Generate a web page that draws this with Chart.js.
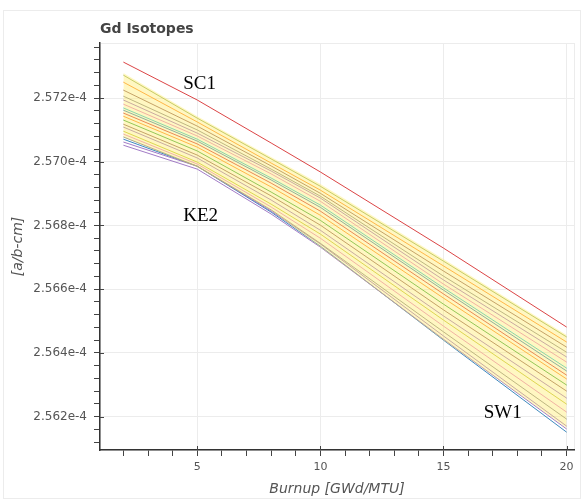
<!DOCTYPE html>
<html>
<head>
<meta charset="utf-8">
<script src="https://cdn.jsdelivr.net/npm/chart.js@4"></script>
<style>
  html, body { margin: 0; padding: 0; background: #fff; }
</style>
</head>
<body>
<canvas id="gd-chart" width="584" height="501"></canvas>
<script>
// burnup steps (GWd/MTU)
const burnup = [2, 5, 8, 10, 15, 20];

// Gd number density per case, in units of 1e-4 a/b-cm
const sc1 = [2.57313, 2.57194, 2.57059, 2.56968, 2.56729, 2.56481];
const case02 = [2.57272, 2.57137, 2.57009, 2.56923, 2.56688, 2.56450];
const case03 = [2.57250, 2.57125, 2.56996, 2.56911, 2.56673, 2.56434];
const case04 = [2.57225, 2.57112, 2.56987, 2.56901, 2.56657, 2.56418];
const case05 = [2.57206, 2.57100, 2.56977, 2.56892, 2.56641, 2.56402];
const case06 = [2.57194, 2.57090, 2.56971, 2.56886, 2.56629, 2.56387];
const case07 = [2.57181, 2.57081, 2.56962, 2.56876, 2.56616, 2.56371];
const case08 = [2.57169, 2.57071, 2.56949, 2.56864, 2.56604, 2.56352];
const case09 = [2.57162, 2.57065, 2.56943, 2.56857, 2.56597, 2.56343];
const case10 = [2.57153, 2.57056, 2.56933, 2.56845, 2.56585, 2.56330];
const case11 = [2.57143, 2.57046, 2.56921, 2.56832, 2.56572, 2.56318];
const case12 = [2.57131, 2.57034, 2.56905, 2.56816, 2.56553, 2.56299];
const case13 = [2.57118, 2.57021, 2.56893, 2.56801, 2.56535, 2.56280];
const case14 = [2.57109, 2.57012, 2.56880, 2.56785, 2.56516, 2.56258];
const case15 = [2.57096, 2.56999, 2.56867, 2.56773, 2.56503, 2.56239];
const case16 = [2.57087, 2.56993, 2.56858, 2.56760, 2.56484, 2.56214];
const case17 = [2.57078, 2.56986, 2.56849, 2.56744, 2.56466, 2.56192];
const ke2 = [2.57062, 2.56986, 2.56845, 2.56742, 2.56453, 2.56170];
const case19 = [2.57052, 2.56977, 2.56836, 2.56732, 2.56443, 2.56161];
const sw1 = [2.57071, 2.56986, 2.56842, 2.56735, 2.56440, 2.56151];

// spread band
const bandHigh = [2.57279, 2.57143, 2.57015, 2.56930, 2.56695, 2.56456];
const bandLow = [2.57078, 2.56983, 2.56848, 2.56732, 2.56440, 2.56164];

// ticks
const xMajor = [5, 10, 15, 20];
const yMajor = [2.562, 2.564, 2.566, 2.568, 2.570, 2.572];

const cases = [sc1, case02, case03, case04, case05, case06, case07, case08, case09, case10,
               case11, case12, case13, case14, case15, case16, case17, ke2, case19, sw1];
const colors = ['#d62728', '#8fa84a', '#ff7f0e', '#8c564b', '#7f7f7f', '#9467bd', '#e377c2',
                '#17becf', '#1f77b4', '#d62728', '#ff7f0e', '#2ca02c', '#8c564b', '#9467bd',
                '#bcbd22', '#e377c2', '#7f7f7f', '#9467bd', '#9467bd', '#1f77b4'];

const notes = [
  {text: 'SC1', x: 4.43, y: 2.57228},
  {text: 'KE2', x: 4.43, y: 2.56814},
  {text: 'SW1', x: 16.63, y: 2.56195}
];

const toPoints = arr => arr.map((v, i) => ({x: burnup[i], y: v}));
const isMajorY = v => yMajor.some(m => Math.abs(m - v) < 1e-6);

const datasets = [
  {data: toPoints(bandLow), borderWidth: 0, pointRadius: 0, fill: false, borderColor: 'rgba(0,0,0,0)'},
  {data: toPoints(bandHigh), borderWidth: 0, pointRadius: 0, fill: '-1',
   borderColor: 'rgba(0,0,0,0)', backgroundColor: 'rgba(255,236,110,0.42)'}
];
cases.forEach((c, i) => {
  datasets.push({
    data: toPoints(c),
    borderColor: colors[i] + 'dd',
    borderWidth: 1,
    pointRadius: 0,
    fill: false,
    tension: 0
  });
});

const textPlugin = {
  id: 'texts',
  beforeDraw(chart) {
    const {ctx, chartArea} = chart;
    ctx.save();
    ctx.fillStyle = '#fff';
    ctx.fillRect(0, 0, chart.width, chart.height);
    ctx.strokeStyle = '#ececec';
    ctx.lineWidth = 1;
    ctx.strokeRect(3.5, 10.5, chart.width - 7, chart.height - 13);
    ctx.strokeRect(chartArea.left + 0.5, chartArea.top + 0.5,
                   chartArea.right - chartArea.left, chartArea.bottom - chartArea.top);
    ctx.restore();
  },
  afterDraw(chart) {
    const {ctx, chartArea, scales} = chart;
    ctx.save();
    // major ticks poke a little into the plot
    ctx.strokeStyle = '#444';
    ctx.lineWidth = 1;
    ctx.beginPath();
    yMajor.forEach(v => {
      const py = Math.round(scales.y.getPixelForValue(v)) + 0.5;
      ctx.moveTo(chartArea.left, py);
      ctx.lineTo(chartArea.left + 4, py);
    });
    xMajor.forEach(v => {
      const px = Math.round(scales.x.getPixelForValue(v)) + 0.5;
      ctx.moveTo(px, chartArea.bottom);
      ctx.lineTo(px, chartArea.bottom - 4);
    });
    ctx.stroke();

    ctx.font = 'bold 14px "DejaVu Sans"';
    ctx.fillStyle = '#444';
    ctx.textBaseline = 'alphabetic';
    ctx.fillText('Gd Isotopes', chartArea.left, 33);
    ctx.font = '19px "Liberation Serif"';
    ctx.fillStyle = '#000';
    notes.forEach(n => {
      ctx.fillText(n.text, scales.x.getPixelForValue(n.x), scales.y.getPixelForValue(n.y));
    });
    ctx.restore();
  }
};

new Chart(document.getElementById('gd-chart'), {
  type: 'line',
  data: {datasets: datasets},
  plugins: [textPlugin],
  options: {
    responsive: false,
    animation: false,
    layout: {padding: {top: 43, right: 10, left: 0, bottom: 0}},
    plugins: {legend: {display: false}, tooltip: {enabled: false}, title: {display: false}},
    scales: {
      x: {
        type: 'linear',
        min: 1.05,
        max: 20.3,
        afterBuildTicks: scale => {
          const t = [];
          for (let v = 2; v <= 20; v++) t.push({value: v});
          scale.ticks = t;
        },
        afterFit: scale => { scale.height = 51; },
        ticks: {
          autoSkip: false,
          maxRotation: 0,
          padding: 5,
          color: '#555',
          font: {family: 'DejaVu Sans', size: 11},
          callback: v => xMajor.includes(v) ? String(v) : ''
        },
        grid: {
          color: c => c.tick && xMajor.includes(c.tick.value) ? '#ececec' : 'rgba(0,0,0,0)',
          tickColor: '#444',
          tickLength: 6
        },
        border: {color: '#333', width: 1.5},
        title: {
          display: true,
          text: 'Burnup [GWd/MTU]',
          color: '#555',
          font: {family: 'DejaVu Sans', size: 14, style: 'italic'},
          padding: {top: 0, bottom: 3}
        }
      },
      y: {
        min: 2.56095,
        max: 2.57373,
        afterBuildTicks: scale => {
          const t = [];
          for (let k = 0; k <= 31; k++) t.push({value: Math.round((2.5612 + k * 0.0004) * 1e5) / 1e5});
          scale.ticks = t;
        },
        afterFit: scale => { scale.width = 100; },
        ticks: {
          autoSkip: false,
          padding: 7,
          color: '#555',
          font: {family: 'DejaVu Sans', size: 12},
          callback: v => isMajorY(v) ? v.toFixed(3) + 'e-4' : ''
        },
        grid: {
          color: c => c.tick && isMajorY(c.tick.value) ? '#ececec' : 'rgba(0,0,0,0)',
          tickColor: '#444',
          tickLength: 6
        },
        border: {color: '#333', width: 1.5},
        title: {
          display: true,
          text: '[a/b-cm]',
          color: '#555',
          font: {family: 'DejaVu Sans', size: 14, style: 'italic'},
          padding: {top: 10, bottom: 0}
        }
      }
    }
  }
});
</script>
</body>
</html>
